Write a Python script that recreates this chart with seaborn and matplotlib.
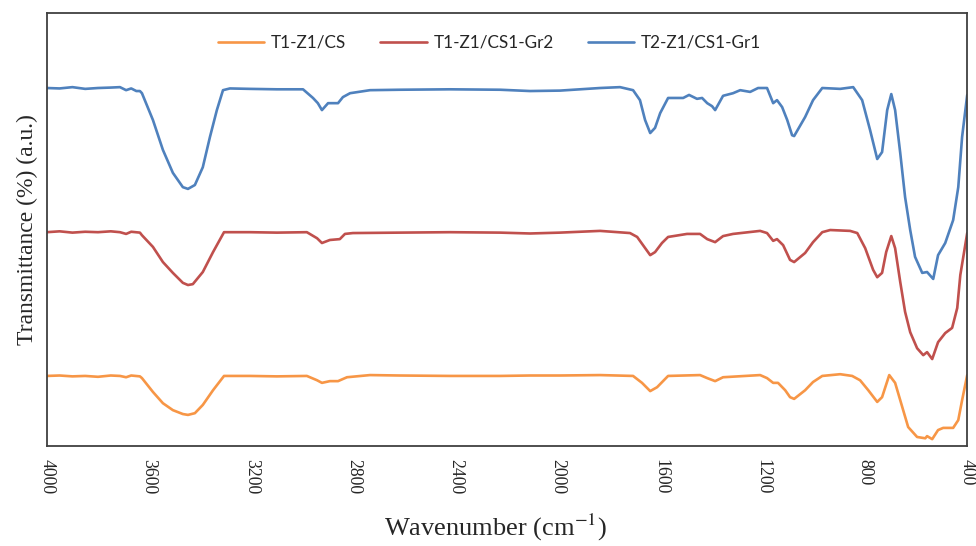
import numpy as np
import pandas as pd
import matplotlib
matplotlib.use("Agg")
import matplotlib.pyplot as plt
import seaborn as sns

# FTIR spectra: wavenumber (cm^-1) and transmittance (a.u.)
series_names = ["T1-Z1/CS", "T1-Z1/CS1-Gr2", "T2-Z1/CS1-Gr1"]
series_colors = ["#F79646", "#C0504D", "#4F81BD"]

wn_cs = [4000, 3950, 3900, 3850, 3800, 3750, 3714, 3690, 3670, 3636, 3628, 3585, 3546,
         3507, 3468, 3448, 3421, 3390, 3350, 3307, 3206, 3100, 2983, 2943, 2924, 2893,
         2861, 2826, 2736, 2619, 2423, 2227, 2110, 1993, 1836, 1707, 1672, 1640, 1613,
         1570, 1445, 1417, 1386, 1355, 1210, 1183, 1159, 1140, 1112, 1093, 1077, 1034,
         1003, 967, 897, 850, 819, 787, 752, 733, 705, 682, 654, 631, 596, 564, 557,
         537, 514, 494, 455, 435, 420, 400]
t_cs = [16.2, 16.3, 16.1, 16.2, 16.0, 16.3, 16.2, 15.9, 16.3, 16.1, 15.7, 12.5, 9.9,
        8.3, 7.4, 7.2, 7.6, 9.5, 12.9, 16.2, 16.2, 16.1, 16.2, 15.2, 14.6, 15.0,
        15.0, 15.9, 16.4, 16.3, 16.2, 16.2, 16.3, 16.3, 16.4, 16.2, 14.6, 12.7, 13.6,
        16.2, 16.4, 15.7, 15.0, 15.9, 16.4, 15.7, 14.6, 14.6, 12.9, 11.3, 10.9, 12.9,
        14.8, 16.2, 16.6, 16.2, 15.2, 12.9, 10.2, 11.3, 16.4, 14.6, 9.0, 4.4, 2.1, 1.8, 2.3,
        1.6, 3.7, 4.2, 4.2, 6.0, 10.6, 16.4]

wn_gr2 = [4000, 3950, 3900, 3850, 3800, 3750, 3714, 3690, 3670, 3636, 3628, 3585, 3546,
          3507, 3468, 3448, 3429, 3390, 3350, 3307, 3206, 3100, 2983, 2943, 2924, 2893,
          2854, 2834, 2803, 2619, 2423, 2227, 2110, 1993, 1836, 1719, 1691, 1668, 1640,
          1621, 1594, 1570, 1496, 1445, 1417, 1386, 1355, 1316, 1210, 1183, 1159, 1144,
          1120, 1093, 1077, 1034, 1003, 967, 936, 858, 830, 799, 768, 752, 733, 717, 697,
          682, 662, 643, 623, 596, 572, 557, 537, 514, 486, 459, 439, 427, 400]
t_gr2 = [49.4, 49.6, 49.3, 49.5, 49.4, 49.6, 49.4, 49.0, 49.5, 49.3, 48.7, 46.0, 42.5,
         40.0, 37.7, 37.2, 37.4, 40.2, 44.8, 49.4, 49.4, 49.3, 49.4, 48.0, 46.9, 47.6,
         47.8, 49.0, 49.2, 49.3, 49.4, 49.3, 49.1, 49.3, 49.7, 49.2, 48.3, 46.4, 44.1,
         44.8, 46.9, 48.3, 49.0, 49.0, 47.8, 47.1, 48.5, 49.0, 49.7, 49.2, 47.4, 47.8,
         46.4, 43.0, 42.5, 44.6, 47.1, 49.4, 49.9, 49.7, 49.2, 45.7, 40.7, 39.0, 40.0, 44.8, 48.5,
         45.7, 37.9, 31.0, 26.3, 22.6, 21.0, 21.7, 20.1, 24.0, 26.1, 27.3, 31.9, 39.5, 49.2]

wn_gr1 = [4000, 3950, 3900, 3850, 3800, 3750, 3714, 3690, 3670, 3650, 3636, 3628, 3585,
          3546, 3507, 3468, 3448, 3421, 3390, 3362, 3335, 3311, 3284, 3206, 3100, 2998,
          2959, 2940, 2924, 2900, 2861, 2842, 2814, 2736, 2619, 2423, 2227, 2110, 1993,
          1836, 1758, 1707, 1680, 1660, 1640, 1621, 1601, 1570, 1511, 1488, 1457, 1437,
          1417, 1398, 1386, 1355, 1316, 1288, 1249, 1218, 1183, 1159, 1144, 1124, 1104,
          1085, 1077, 1034, 1003, 967, 897, 846, 811, 780, 752, 733, 713, 697, 682, 662,
          643, 623, 604, 576, 557, 533, 514, 486, 455, 435, 420, 400]
t_gr1 = [82.7, 82.6, 82.9, 82.5, 82.7, 82.8, 82.9, 82.2, 82.6, 82.0, 82.0, 81.5, 75.3,
         68.4, 63.1, 59.8, 59.4, 60.3, 64.4, 71.4, 77.6, 82.2, 82.6, 82.5, 82.4, 82.4,
         80.4, 79.2, 77.6, 79.2, 79.2, 80.6, 81.5, 82.2, 82.3, 82.4, 82.3, 82.0, 82.1,
         82.7, 82.9, 82.2, 79.9, 75.3, 72.3, 73.5, 76.9, 80.4, 80.4, 81.1, 80.2, 80.4,
         79.2, 78.5, 77.6, 80.9, 81.5, 82.2, 81.8, 82.7, 82.7, 79.2, 79.9, 78.3, 75.3,
         71.8, 71.6, 76.0, 79.9, 82.7, 82.5, 82.9, 79.9, 73.0, 66.3, 67.9, 77.6, 81.3, 77.6, 67.7,
         57.5, 49.9, 43.7, 40.0, 40.2, 38.6, 44.1, 46.9, 52.2, 59.8, 71.4, 81.1]

x_ticks = [4000, 3600, 3200, 2800, 2400, 2000, 1600, 1200, 800, 400]

frames = []
for name, wn, t in zip(series_names, [wn_cs, wn_gr2, wn_gr1], [t_cs, t_gr2, t_gr1]):
    frames.append(pd.DataFrame({"wavenumber": wn, "transmittance": t, "sample": name}))
df = pd.concat(frames, ignore_index=True)

sns.set_style("white")
plt.rcParams["font.family"] = ["Liberation Serif", "DejaVu Serif"]
plt.rcParams["mathtext.fontset"] = "stix"

fig = plt.figure(figsize=(9.76, 5.46), dpi=100)
ax = fig.add_axes([0.048, 0.183, 0.943, 0.793])

sns.lineplot(data=df, x="wavenumber", y="transmittance", hue="sample",
             hue_order=series_names, palette=series_colors, estimator=None,
             linewidth=1.9, ax=ax)

ax.set_xlim(4000, 400)
ax.set_ylim(0, 100)
ax.set_xticks(x_ticks)
ax.set_xticklabels([str(v) for v in x_ticks], rotation=-90, fontsize=12.8)
ax.set_yticks([])
ax.tick_params(axis="x", length=0, pad=9)
ax.set_xlabel("Wavenumber (cm$^{-1}$)", fontsize=19)
ax.xaxis.set_label_coords(0.487, -0.153)
ax.set_ylabel("Transmittance (%) (a.u.)", fontsize=17, labelpad=6)

for side in ["left", "right", "top", "bottom"]:
    ax.spines[side].set_visible(True)
    ax.spines[side].set_color("#404040")
    ax.spines[side].set_linewidth(1.3)

leg = ax.legend(loc="upper center", bbox_to_anchor=(0.481, 0.985), ncol=3, frameon=False,
                handlelength=2.7, handletextpad=0.4, columnspacing=2.0,
                prop={"family": "Lato", "size": 12.3})
for line in leg.get_lines():
    line.set_linewidth(1.9)

fig.savefig("out.png", dpi=100)
